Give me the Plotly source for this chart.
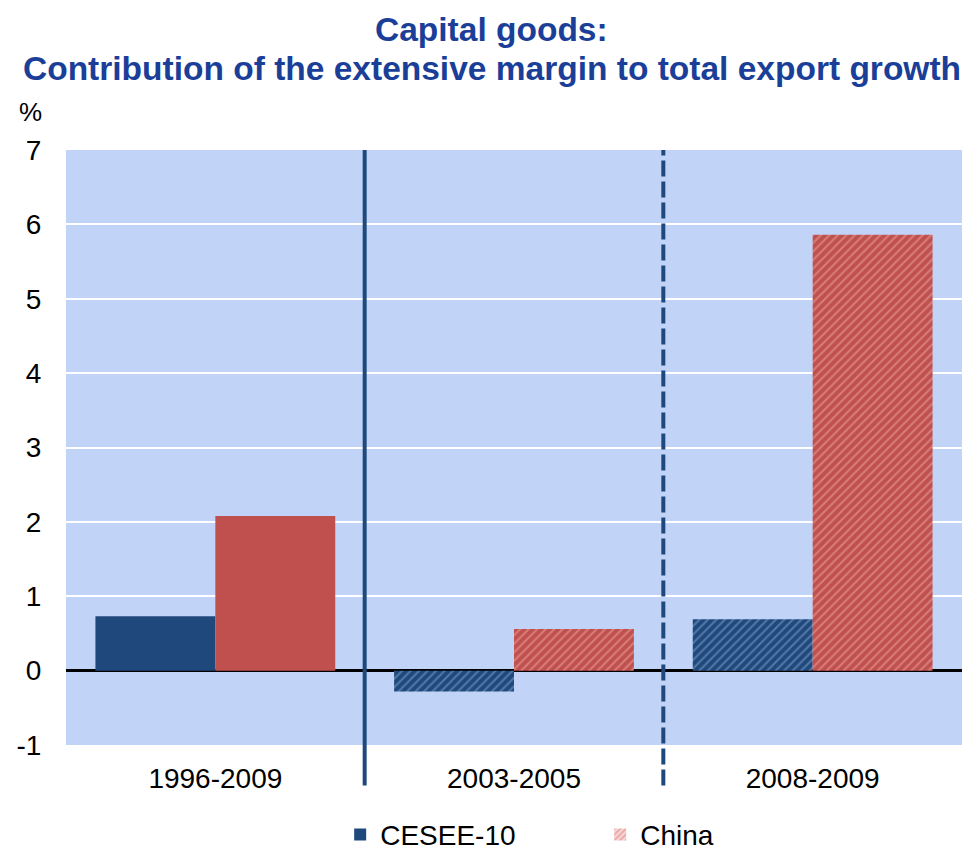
import plotly.graph_objects as go

# Data
periods = ["1996-2009", "2003-2005", "2008-2009"]
cesee = [0.73, -0.28, 0.69]
china = [2.08, 0.56, 5.86]
y_ticks = [-1, 0, 1, 2, 3, 4, 5, 6, 7]
y_tick_labels = ["-1", "0", "1", "2", "3", "4", "5", "6", "7"]
title_lines = ["Capital goods:",
               "Contribution of the extensive margin to total export growth"]

NAVY = "#1f497d"
RED = "#c0504d"
PLOT_BG = "#c1d4f8"
TITLE_COL = "#1b3f98"
FONT = "Liberation Sans, Arial, sans-serif"

hatch = ["", "/", "/"]

fig = go.Figure()

fig.add_trace(go.Bar(
    x=periods, y=cesee, name="CESEE-10", offsetgroup="a", showlegend=False,
    marker=dict(color=NAVY, line=dict(width=0),
                pattern=dict(shape=hatch, fgcolor="#8aa6cc", bgcolor=NAVY,
                             size=6, solidity=0.35)),
))
fig.add_trace(go.Bar(
    x=periods, y=china, name="China", offsetgroup="b", showlegend=False,
    marker=dict(color=RED, line=dict(width=0),
                pattern=dict(shape=hatch, fgcolor="#eeaaa6", bgcolor=RED,
                             size=6, solidity=0.35)),
))

# Legend entries
fig.add_trace(go.Bar(
    x=[periods[0]], y=[None], name="CESEE-10", offsetgroup="a",
    marker=dict(color=NAVY, line=dict(width=0)),
))
fig.add_trace(go.Bar(
    x=[periods[0]], y=[None], name="China", offsetgroup="b",
    marker=dict(color="#f0c4c2", line=dict(width=0),
                pattern=dict(shape="/", fgcolor="#d9706c", bgcolor="#f6d6d4",
                             size=5, solidity=0.4)),
))

# Period separators
fig.add_shape(type="line", xref="x", yref="paper", x0=0.5, x1=0.5, y0=-0.068, y1=1,
              line=dict(color=NAVY, width=4))
fig.add_shape(type="line", xref="x", yref="paper", x0=1.5, x1=1.5, y0=-0.068, y1=1,
              line=dict(color=NAVY, width=4, dash="16px,5px"))

fig.update_layout(
    width=971, height=851,
    margin=dict(l=66, r=9, t=150, b=106),
    paper_bgcolor="white",
    plot_bgcolor=PLOT_BG,
    barmode="group",
    bargap=0.197,
    bargroupgap=0,
    font=dict(family=FONT, size=28, color="black"),
    legend=dict(
        orientation="h", x=0.306, xanchor="left",
        y=0.019, yanchor="middle", yref="container",
        font=dict(size=28), entrywidth=215, traceorder="normal",
    ),
    showlegend=True,
)

# Two-line bold title
for text, ypos in zip(title_lines, [1.2017, 1.1378]):
    fig.add_annotation(text=f"<b>{text}</b>", xref="paper", yref="paper",
                       x=0.475, y=ypos, xanchor="center", yanchor="middle",
                       showarrow=False,
                       font=dict(size=33.5, family=FONT, color=TITLE_COL))

fig.update_xaxes(
    range=[-0.5, 2.5], showgrid=False, showline=False, zeroline=False,
    ticks="outside", ticklen=8, tickcolor="rgba(0,0,0,0)",
)
fig.update_yaxes(
    range=[-1, 7], tickvals=y_ticks, ticktext=y_tick_labels,
    showgrid=True, gridcolor="white", gridwidth=2,
    zeroline=True, zerolinecolor="black", zerolinewidth=2.5,
    showline=False, ticks="outside", ticklen=18, tickcolor="rgba(0,0,0,0)",
)

fig.add_annotation(text="%", xref="paper", yref="paper", x=-0.04, y=1.035,
                   xanchor="center", yanchor="bottom", showarrow=False,
                   font=dict(size=26, family=FONT))

fig.write_html("out.html")
